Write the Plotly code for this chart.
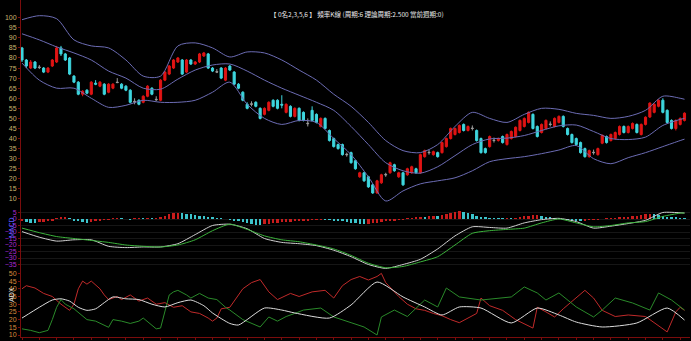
import plotly.graph_objects as go

# ---------------- price candles ----------------
opens = [85, 79, 75, 78, 75.5, 75, 73, 76, 78, 85, 82, 80, 71, 68, 62, 64, 62, 67.5, 66, 67,
         63, 65, 68, 67, 66, 64, 58.5, 59, 58, 61, 65, 59.5, 59, 69, 72, 75, 78, 79, 73, 79,
         77, 78, 81, 82, 75, 73.2, 75, 69, 76, 73, 67, 63, 57, 57, 58, 55, 52, 54, 59, 59,
         57, 53, 56, 51, 55, 53, 47.6, 54, 52, 46, 50, 44, 40, 37, 37, 32.2, 33, 29, 21, 23,
         21, 17, 13, 18, 22.2, 23, 27, 21, 23, 22, 23, 25, 23, 31, 33.2, 32, 33, 33, 36, 40,
         42, 43, 47, 44, 45.2, 44, 40, 35, 36, 39.2, 39, 41, 37, 40, 41, 44, 46, 48, 52, 46,
         43, 45, 47.2, 46, 48, 51, 45, 42, 40, 38, 35, 31, 33.2, 32, 37.7, 41, 39, 40, 42, 46,
         43, 45, 47, 42, 47, 50.7, 53, 56, 59, 54, 49, 45, 47, 49]
highs = [85.5, 79.5, 79, 78.5, 76.5, 75.5, 75.5, 79.5, 86, 86, 82.5, 80.5, 71.5, 68.5, 64, 64.5, 68.5, 69, 68.5, 67.5,
         67.5, 67.5, 70, 67.5, 66.5, 64.5, 60, 59.5, 61.5, 66.5, 65.5, 61, 69.5, 73.5, 76.5, 79.5, 80.5, 79.5, 79.5, 79.5,
         78.5, 82.5, 83, 82.5, 75.5, 74.5, 75.5, 75.5, 76.5, 73.5, 67.5, 63.5, 58, 58.5, 58.5, 55.5, 55.5, 58.5, 59.5, 59.5,
         61.5, 57.5, 56.5, 55.5, 55.5, 53.5, 50, 56, 52.5, 50.5, 50.5, 44.5, 40.5, 37.5, 37.5, 33, 33.5, 29.5, 23.5, 23.5,
         21.5, 17.5, 19.5, 22.5, 23, 28.5, 27.5, 23.5, 23.5, 25.5, 26.5, 25.5, 32.5, 34.5, 34.5, 34, 33.5, 38.5, 40.5, 45.5,
         45.5, 47, 47.5, 46.5, 46.5, 44.5, 40.5, 35.5, 41.5, 40.5, 40.5, 41.5, 42.5, 44, 46, 49.5, 50.5, 53.5, 52.5, 46.5,
         47.5, 49.5, 48.5, 50.5, 51.5, 51.5, 45.5, 42.5, 40.5, 38.5, 35.5, 34.5, 34.5, 35.5, 42, 41.5, 42.5, 43.5, 46.5, 46.5,
         46.5, 48, 47.5, 47.5, 51, 58, 57.5, 59.5, 60, 54.5, 49.5, 49.5, 50.5, 53]
lows = [78, 75, 74.5, 74.5, 74.5, 72.5, 72.5, 75.5, 77.5, 81, 78.5, 71.5, 67.5, 61.5, 61, 62, 61.5, 66.5, 65.5, 61.5,
        62.5, 64.5, 67.5, 64.5, 63.5, 57.5, 57, 56.5, 57.5, 60.5, 61.5, 58.5, 58.5, 68.5, 71.5, 74.5, 77.5, 71.5, 72.5, 76.5,
        76.5, 77.5, 80.5, 74.5, 73, 72.5, 69.5, 68.5, 73.5, 66.5, 64.5, 58.5, 54.5, 56, 55.5, 49.5, 51.5, 53.5, 55.5, 54.5,
        55, 52.5, 50.5, 50.5, 48.5, 48.5, 46, 48.5, 47.5, 45.5, 44.5, 38.5, 35.5, 34.5, 31.5, 31, 27.5, 24.5, 20.5, 18.5,
        15.5, 12.5, 12.5, 17.5, 21, 22.5, 23.5, 20.5, 16.5, 21.5, 22.5, 22.5, 22.5, 30.5, 32, 31.5, 30.5, 32.5, 35.5, 39.5,
        41.5, 42.5, 43.5, 43.5, 44, 38.5, 32.5, 32.5, 35.5, 38, 38.5, 37.5, 36.5, 39.5, 40.5, 43.5, 45.5, 47.5, 44.5, 40.5,
        42.5, 44.5, 46, 45.5, 47.5, 45.5, 41.5, 37.5, 36.5, 32.5, 30.5, 30.5, 32, 31.5, 37.2, 37.5, 38.5, 39.5, 41.5, 42.5,
        42.5, 44.5, 42.5, 41.5, 46.5, 50.2, 52.5, 55.5, 52.5, 47.5, 44.5, 44, 46.5, 48.5]
closes = [79, 76, 78, 75, 75.3, 73, 75, 79, 85, 82, 79, 72, 68, 62, 63.5, 62.5, 68, 67, 68, 62,
          67, 67, 67.8, 65, 64, 58, 58.2, 57, 61, 66, 62, 59.3, 69, 73, 76, 79, 80, 72, 79, 77,
          78, 82, 82.5, 75, 73.5, 73, 70, 75, 74, 67, 65, 59, 55, 57.2, 56, 50, 55, 58, 56, 55,
          56.6, 57, 51, 55, 49, 49, 47.4, 49, 48, 50, 45, 39, 36, 35, 32, 32, 28, 25, 23, 19,
          16, 13, 19, 22, 22, 28, 24, 23, 17, 25, 26, 23, 32, 34, 33, 33.5, 31, 38, 40, 45,
          45, 46.5, 44, 46, 45, 39, 33, 33, 41, 39, 40, 38, 42, 43.5, 45.6, 49, 50, 53, 45, 41,
          47, 49, 47, 50, 51, 46, 42, 38, 37, 33, 31, 34, 33, 35, 41.6, 38, 42, 43, 46, 43,
          46, 47.5, 43, 47, 50.6, 57.6, 57, 59, 53, 48, 45, 49, 50, 52.6]

# ---------------- Bollinger bands (sampled every 4 bars) ----------------
band_idx = list(range(0, 153, 4)) + [153]
boll_upper = [99, 101, 99.5, 89, 86, 85, 79, 71, 71, 86, 87.5, 85, 80.5, 83, 82.5, 79, 74, 69, 62, 56,
              48, 39, 34, 33, 37, 46, 53, 50, 48, 52, 55, 54.5, 52.5, 51.5, 50, 51, 54, 61, 60, 59.5]
boll_mid = [92, 89, 85.5, 82.5, 79, 73.5, 70, 65, 64.5, 69.5, 74, 76.5, 77, 73.5, 69, 65, 61.5, 58, 54, 46,
            37, 28, 24, 22.8, 26, 31.5, 37, 39.8, 40.2, 41.5, 44, 46.3, 46.7, 43.5, 40, 39.5, 40.7, 46.5, 49.5, 50]
boll_lower = [77.5, 69, 65, 65, 60, 55.5, 56.5, 59, 58, 58, 59, 63, 68, 57, 50, 47, 49, 48, 40, 32,
              21, 9, 14, 17.5, 19, 20.5, 24, 28.5, 30, 31, 32.5, 34.3, 36.5, 30, 27.5, 30.5, 33, 36, 39, 39.7]

# ---------------- MACD ----------------
macd_dif = [-9.7, -14, -17, -16, -16, -21, -22, -21.5, -21.5, -19, -12, -5, -4, -7.5, -15, -18, -19, -20.5, -24, -29,
            -35, -38, -35, -31, -23, -13, -6, -6.5, -7, -3, -0.5, 0.5, -2, -7, -5.5, -3.5, -1, 5, 4.8, 4.6]
macd_dea = [-7, -10.5, -13.5, -15, -16.5, -18, -20, -21, -21.5, -20, -16, -9, -4, -8, -13, -16, -17.5, -20, -23, -28,
            -34, -37.5, -36.5, -33, -29, -20, -11, -9, -8, -7, -3, 0, -3, -6, -5, -3, -2, 2, 4.5, 4.6]
macd_hist = [-1.5, -2.2, -2.8, -3.0,
             -2.6, -2.0, -1.4, -0.8,
             0.3, 0.8, 1.0,
             0.2, -0.8, -1.8, -2.6, -3.0,
             -2.4, -1.8, -1.2, -0.7, -0.3,
             0.1, 0.3, 0.2, 0.0, -0.2, 0.1, 0.3, 0.2, 0.4, 0.3, 0.6,
             1.5, 2.6, 3.6, 4.4, 5.0,
             4.6, 4.2, 3.6, 3.0, 2.5, 2.0, 1.4, 0.8,
             0.5, 0.2, 0.0, -0.4,
             -1.0, -1.8, -2.6, -3.3, -3.9, -4.3, -4.6,
             -4.0, -3.6, -3.2, -2.9, -2.6, -2.3, -2.0, -1.7, -1.4, -1.1, -0.8,
             -0.6, -0.5, -0.3, -0.4, -0.6, -0.8, -1.0,
             -1.5, -2.1, -2.7, -3.2, -3.7, -4.1,
             -3.8, -3.4, -2.9, -2.4,
             -1.9, -1.4, -0.9, -0.5, -0.1, 0.3, 0.6,
             1.0, 1.5, 1.3, 2.0, 2.6, 2.4, 3.2, 3.9,
             4.7, 5.5, 6.2,
             5.3, 4.4, 3.5, 2.6, 1.8, 1.0,
             0.6, 0.3, 0.2, 0.1, 0.3, 0.2, 0.6, 1.4,
             2.0, 2.6, 3.1, 3.4,
             2.6, 1.8, 1.0,
             0.5, 0.2, -0.2, -0.5, -0.8, -1.0, -1.2, -1.0,
             -0.7, -0.5, -0.3, 0.0, 0.3, 0.5, 0.7,
             1.0, 1.3, 1.6, 2.0, 2.6, 3.2, 3.8,
             4.2, 3.6, 3.0, 2.4, 1.8, 1.2,
             0.8, 0.5, 0.3]

# ---------------- ADX / DMI (bar index, value) ----------------
pdi_idx = [0, 1, 3, 5, 7, 9, 11, 12, 13, 14, 15, 16, 18, 19, 20, 22, 23, 25, 27, 29,
           31, 33, 35, 37, 39, 41, 43, 44, 45, 46, 48, 51, 53, 55, 57, 59, 62, 64, 67, 70,
           72, 74, 76, 78, 80, 82, 83, 84, 87, 89, 91, 93, 95, 97, 99, 101, 103, 105, 106, 108,
           111, 114, 118, 119, 121, 123, 125, 127, 129, 130, 132, 134, 137, 140, 144, 148, 149, 151, 152, 153]
pdi = [40, 42, 40.5, 37, 35, 30, 26, 30, 40, 45, 43, 45, 40, 36, 33, 35, 33, 36, 32, 34,
       30, 31, 28, 29, 25, 24, 21, 19, 21, 27, 28, 40, 44, 46, 38, 33, 37, 35, 38, 39,
       34, 42, 46, 48, 45.7, 48, 50, 44, 35, 30, 27, 26, 24, 22.5, 20, 18, 21, 24, 34, 29,
       26, 20, 14.5, 28, 25, 21.7, 27, 32, 37, 39, 34, 26, 22, 23, 22, 14, 12, 25, 28, 26]
mdi_idx = [0, 2, 4, 6, 7, 8, 9, 10, 12, 14, 15, 17, 19, 20, 21, 23, 25, 27, 28, 30,
           31, 32, 33, 34, 35, 36, 38, 39, 41, 43, 45, 47, 48, 51, 55, 57, 59, 61, 63, 65,
           69, 72, 76, 79, 82, 83, 86, 89, 93, 96, 98, 101, 106, 113, 116, 119, 121, 124, 128, 132,
           134, 137, 141, 145, 147, 150, 153]
mdi = [14, 13, 11.5, 13, 20, 28, 33, 30, 27, 22, 20, 19, 16, 15, 20, 19, 17.5, 19, 21, 16,
       14, 14.5, 25, 36, 38, 39, 36, 34, 37, 34, 33, 28, 26.2, 20, 15.2, 21.7, 19, 22, 24, 26.2,
       27.5, 21.7, 18, 15.2, 10, 21.7, 26.2, 22, 32.7, 28.2, 40.5, 34.7, 32.7, 34.7, 41.2, 37.3, 32.7, 37.3, 28.2, 21.7,
       26.2, 34, 30.8, 26.2, 37.3, 32.7, 26.2]
adx_idx = [0, 4, 7, 9, 11, 13, 15, 17, 19, 21, 24, 27, 30, 33, 36, 39, 42, 44, 48, 50,
           56, 60, 63, 71, 76, 82, 88, 93, 97, 101, 106, 113, 119, 124, 128, 134, 142, 149, 153]
adx = [21, 28, 32.7, 33.5, 32, 28, 26, 27, 31, 34.7, 33.5, 33, 30, 28.2, 31, 32.7, 29, 24.3, 17.5, 16.5,
       27.5, 26.2, 24.3, 21, 29.5, 44.4, 34.7, 28.2, 23, 28.2, 27.5, 17.8, 27.5, 23, 18.4, 15.2, 17.8, 27.5, 19.7]

price_ticks = list(range(10, 101, 5))
macd_ticks = list(range(5, -36, -5))
adx_ticks = list(range(10, 51, 5))

title_text = "【 0名2,3,5,6 】 頻率K線 (周期:6 理論周期:2.500 當前週期:0)"

N = len(closes)
xs = list(range(N))

AXIS_RED = "#7a0c0c"
UP = "#e01414"
DOWN = "#3ed6de"

fig = go.Figure()

# candles split into rising, falling and flat bars
groups = {"up": [], "down": [], "flat": []}
for i in xs:
    diff = closes[i] - opens[i]
    if abs(diff) < 0.35:
        groups["flat"].append(i)
    elif diff > 0:
        groups["up"].append(i)
    else:
        groups["down"].append(i)

styles = {"up": UP, "down": DOWN, "flat": "#9a9a9a"}
for key, idx in groups.items():
    col = styles[key]
    fig.add_trace(go.Candlestick(
        x=idx,
        open=[opens[i] for i in idx], high=[highs[i] for i in idx],
        low=[lows[i] for i in idx], close=[closes[i] for i in idx],
        increasing=dict(line=dict(color=col, width=1), fillcolor=col),
        decreasing=dict(line=dict(color=col, width=1), fillcolor=col),
        whiskerwidth=0, showlegend=False, hoverinfo="skip",
        xaxis="x", yaxis="y",
    ))

BAND = "#6c6cb4"
for vals in (boll_upper, boll_mid, boll_lower):
    fig.add_trace(go.Scatter(x=band_idx, y=vals, mode="lines",
                             line=dict(color=BAND, width=1, shape="spline", smoothing=0.8),
                             showlegend=False, hoverinfo="skip", yaxis="y"))

# MACD histogram: red while rising, cyan while falling
hist_colors = []
for i, v in enumerate(macd_hist):
    prev = macd_hist[i - 1] if i > 0 else v
    hist_colors.append("#c81c1c" if v >= prev else "#3cc4cc")
fig.add_trace(go.Bar(x=xs, y=macd_hist, marker=dict(color=hist_colors, line=dict(width=0)),
                     width=0.55, showlegend=False, hoverinfo="skip", yaxis="y2"))
fig.add_trace(go.Scatter(x=band_idx, y=macd_dif, mode="lines",
                         line=dict(color="#d0d0d0", width=1, shape="spline", smoothing=0.6),
                         showlegend=False, hoverinfo="skip", yaxis="y2"))
fig.add_trace(go.Scatter(x=band_idx, y=macd_dea, mode="lines",
                         line=dict(color="#3cb43c", width=1, shape="spline", smoothing=0.6),
                         showlegend=False, hoverinfo="skip", yaxis="y2"))

# DMI / ADX lines
fig.add_trace(go.Scatter(x=pdi_idx, y=pdi, mode="lines", line=dict(color="#c02a2a", width=1),
                         showlegend=False, hoverinfo="skip", yaxis="y3"))
fig.add_trace(go.Scatter(x=mdi_idx, y=mdi, mode="lines", line=dict(color="#2a8a2a", width=1),
                         showlegend=False, hoverinfo="skip", yaxis="y3"))
fig.add_trace(go.Scatter(x=adx_idx, y=adx, mode="lines",
                         line=dict(color="#dcdcdc", width=1, shape="spline", smoothing=0.6),
                         showlegend=False, hoverinfo="skip", yaxis="y3"))

tickfont = dict(family="Liberation Sans, Arial, sans-serif", size=7)

fig.update_layout(
    width=691, height=341,
    margin=dict(l=21, r=1, t=0, b=4),
    paper_bgcolor="black", plot_bgcolor="black",
    showlegend=False,
    bargap=0,
    xaxis=dict(range=[-0.23, 154.27], showgrid=False, zeroline=False,
               rangeslider=dict(visible=False),
               showline=True, linecolor=AXIS_RED, linewidth=1,
               ticks="outside", ticklen=2, tickcolor=AXIS_RED,
               tickvals=list(range(0, N, 4)), showticklabels=False),
    yaxis=dict(range=[-58.54, 108.79], tickvals=price_ticks, showgrid=False, zeroline=False,
               showline=True, linecolor=AXIS_RED, linewidth=1,
               ticks="outside", ticklen=2, tickcolor=AXIS_RED,
               tickfont=dict(tickfont, color="#c8b46e")),
    yaxis2=dict(range=[-90.77, 168.46], overlaying="y", side="left", anchor="x",
                tickvals=macd_ticks, showgrid=True, gridcolor="#161616", zeroline=False,
                ticks="outside", ticklen=2, tickcolor=AXIS_RED,
                tickfont=dict(tickfont, color="#a82ad0")),
    yaxis3=dict(range=[8.70, 227.5], overlaying="y", side="left", anchor="x",
                tickvals=adx_ticks, showgrid=False, zeroline=False,
                ticks="outside", ticklen=2, tickcolor=AXIS_RED,
                tickfont=dict(tickfont, color="#d88a3c")),
    annotations=[
        dict(text=title_text, x=357, y=7, xref="x domain", yref="paper", showarrow=False,
             font=dict(family="Noto Sans CJK TC, sans-serif", size=6.5, color="#e8e8e8")),
        dict(text="MACD", x=6, y=240, textangle=-90, showarrow=False,
             font=dict(family="Liberation Sans, Arial", size=7, color="#5a5aff")),
        dict(text="ADX", x=6, y=304, textangle=-90, showarrow=False,
             font=dict(family="Liberation Sans, Arial", size=7, color="#e0e0e0")),
    ],
)

# place annotations in pixel coordinates
W, H, L, T, B, R = 691, 341, 21, 0, 4, 1
pw, ph = W - L - R, H - T - B
anns = []
for a in fig.layout.annotations:
    a = a.to_plotly_json()
    px_x, px_y = a["x"], a["y"]
    a["xref"] = "paper"
    a["yref"] = "paper"
    a["x"] = (px_x - L) / pw
    a["y"] = 1 - (px_y - T) / ph
    anns.append(a)
fig.layout.annotations = anns

fig.write_html("out.html")
